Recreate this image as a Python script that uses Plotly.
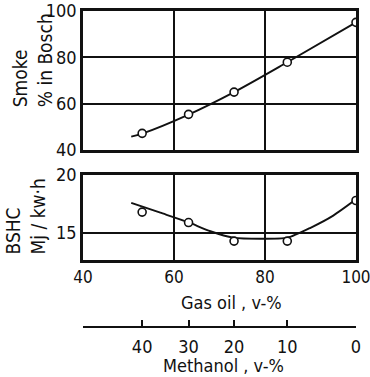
import plotly.graph_objects as go

# Data
gas_oil = [53.0, 63.2, 73.2, 84.9, 100.0]          # x positions of measured points (v-% gas oil)
methanol = [40, 30, 20, 10, 0]                     # corresponding methanol v-%
smoke = [47.2, 55.4, 65.0, 77.9, 95.1]             # smoke, % in Bosch
bshc = [16.8, 15.9, 14.3, 14.3, 17.8]              # BSHC, MJ/kW.h

# fitted curves as drawn in the picture
smoke_curve_x = [50.6, 53.0, 63.2, 73.2, 84.9, 100.0]
smoke_curve_y = [45.8, 47.1, 55.3, 65.0, 77.9, 95.1]
bshc_curve_x = [50.6, 57.0, 63.0, 68.0, 73.0, 79.0, 85.0, 90.0, 95.0, 100.0]
bshc_curve_y = [17.6, 16.75, 15.95, 15.15, 14.6, 14.5, 14.6, 15.45, 16.5, 17.9]

x_ticks = [40, 60, 80, 100]
smoke_ticks = [40, 60, 80, 100]
bshc_ticks = [15, 20]

FONT = "DejaVu Sans Condensed"
BLACK = "#111111"

fig = go.Figure()

line_style = dict(color=BLACK, width=1.9, shape="spline", smoothing=0.6)
marker_style = dict(symbol="circle", size=8, color="white", line=dict(color=BLACK, width=1.6))

fig.add_trace(go.Scatter(x=smoke_curve_x, y=smoke_curve_y, mode="lines",
                         line=dict(line_style, smoothing=0.9),
                         xaxis="x", yaxis="y", hoverinfo="skip"))
fig.add_trace(go.Scatter(x=gas_oil, y=smoke, mode="markers", marker=marker_style,
                         xaxis="x", yaxis="y"))
fig.add_trace(go.Scatter(x=bshc_curve_x, y=bshc_curve_y, mode="lines", line=line_style,
                         xaxis="x2", yaxis="y2", hoverinfo="skip"))
fig.add_trace(go.Scatter(x=gas_oil, y=bshc, mode="markers", marker=marker_style,
                         xaxis="x2", yaxis="y2"))
# invisible trace to carry the methanol scale
fig.add_trace(go.Scatter(x=gas_oil, y=bshc, mode="markers", opacity=0,
                         xaxis="x3", yaxis="y2", hoverinfo="skip"))

axis_common = dict(showline=True, linecolor=BLACK, linewidth=2.5, mirror=True,
                   showgrid=True, gridcolor=BLACK, gridwidth=1.8, zeroline=False,
                   automargin=False, ticklabeloverflow="allow",
                   ticks="", tickfont=dict(family=FONT, size=18, color=BLACK))

fig.update_layout(
    width=370, height=377,
    margin=dict(l=83, r=14, t=11, b=50, autoexpand=False),
    paper_bgcolor="white", plot_bgcolor="white",
    showlegend=False,
    font=dict(family=FONT, size=18, color=BLACK),
    xaxis=dict(axis_common, domain=[0, 1], range=[40, 100], anchor="y",
               tickvals=x_ticks, showticklabels=False),
    yaxis=dict(axis_common, domain=[0.560, 1.0], range=[40, 100], anchor="x",
               tickvals=smoke_ticks),
    xaxis2=dict(axis_common, domain=[0, 1], range=[40, 100], anchor="y2",
                tickvals=x_ticks, tickfont=dict(family=FONT, size=17, color=BLACK)),
    yaxis2=dict(axis_common, domain=[0.212, 0.481], range=[12.67, 20], anchor="x2",
                tickvals=bshc_ticks),
    xaxis3=dict(overlaying="x2", anchor="free", position=0, side="bottom",
                range=[40, 100], showline=True, linecolor=BLACK, linewidth=2,
                showgrid=False, zeroline=False, automargin=False,
                ticklabeloverflow="allow",
                ticks="inside", ticklen=6, tickwidth=2, tickcolor=BLACK,
                ticklabelstandoff=3,
                tickvals=gas_oil, ticktext=[str(m) for m in methanol],
                tickfont=dict(family=FONT, size=18, color=BLACK)),
)

ann_font = dict(family=FONT, size=18, color=BLACK)
fig.add_annotation(text="Gas oil , v-%", xref="paper", yref="paper",
                   x=0.545, y=0.079, xanchor="center", yanchor="middle",
                   showarrow=False, font=ann_font)
fig.add_annotation(text="Methanol , v-%", xref="paper", yref="paper",
                   x=0.515, y=-0.123, xanchor="center", yanchor="middle",
                   showarrow=False, font=ann_font)
fig.add_annotation(text="Smoke<br>% in Bosch", xref="paper", yref="paper",
                   x=-0.182, y=0.845, xanchor="center", yanchor="middle",
                   textangle=-90, align="left", showarrow=False,
                   font=dict(family=FONT, size=19, color=BLACK))
fig.add_annotation(text="BSHC<br>Mj / kw·h", xref="paper", yref="paper",
                   x=-0.211, y=0.351, xanchor="center", yanchor="middle",
                   textangle=-90, align="left", showarrow=False,
                   font=dict(family=FONT, size=19, color=BLACK))

fig.write_html("out.html")
